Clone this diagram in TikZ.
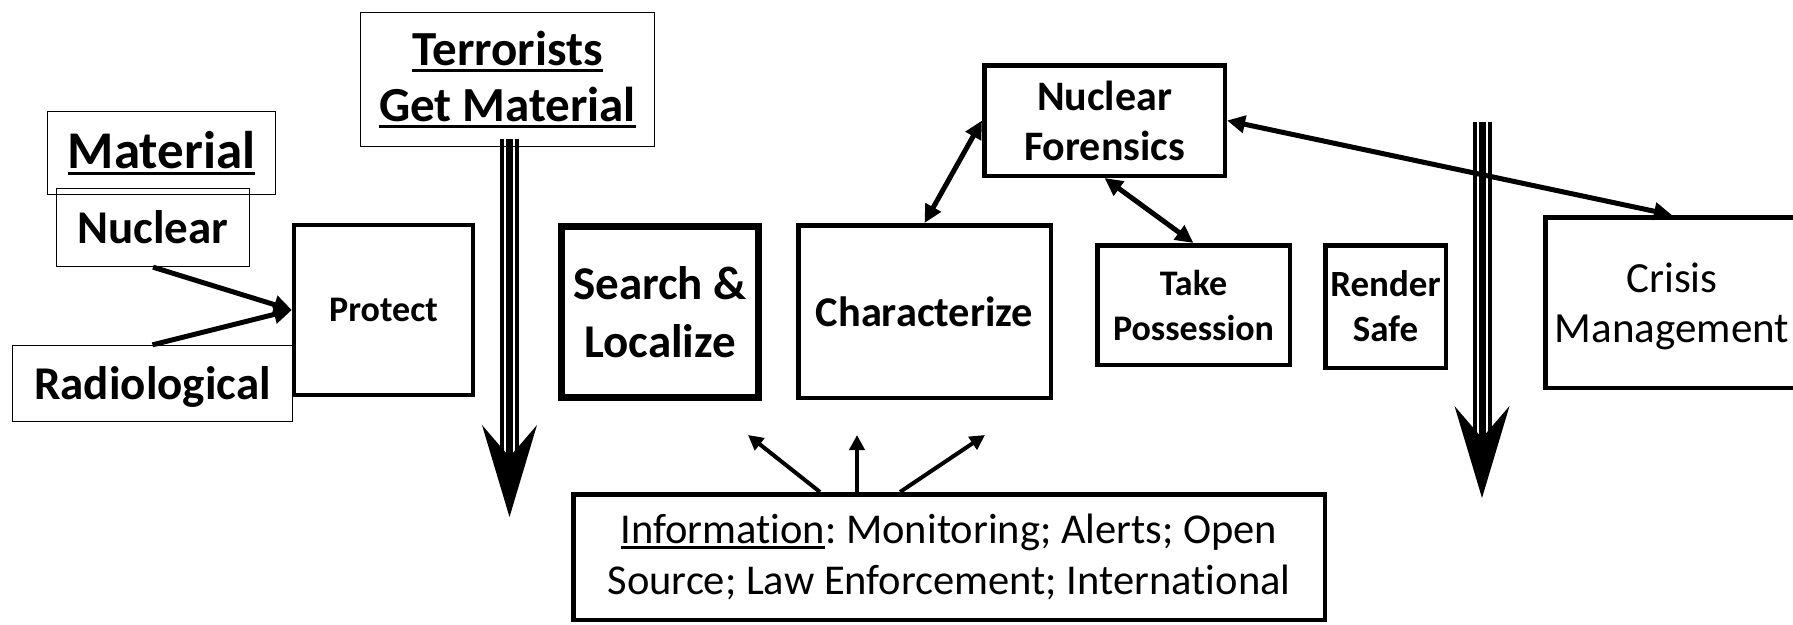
\documentclass[tikz,border=0pt]{standalone}
\usepackage{fontspec}
\setmainfont{Carlito}[RawFeature={-liga,-dlig}]
\usetikzlibrary{arrows.meta,calc}

% underline with a rule that scales with the font size
\newcommand{\uln}[1]{\setbox0\hbox{#1}\leavevmode\rlap{\rule[-0.12em]{\wd0}{0.055em}}\box0}
\newcommand{\fsz}[2]{\fontsize{#1}{#2}\selectfont}
\frenchspacing

\begin{document}
\begin{tikzpicture}[x=1pt,y=-1pt,
  thinbox/.style={draw, line width=1.3pt, inner sep=0pt, align=center},
  boldbox/.style={draw, line width=4.5pt, inner sep=0pt, align=center},
  arr/.style={line width=5pt, -{Triangle[length=18pt,width=18pt]}},
  dblarr/.style={line width=5pt, {Triangle[length=18pt,width=17pt]}-{Triangle[length=18pt,width=17pt]}},
  infoarr/.style={line width=4pt, -{Triangle[length=15pt,width=15pt]}}]

\useasboundingbox (0,0) rectangle (1793,624);

% material boxes on the left
\node[thinbox, minimum width=228pt, minimum height=83pt, font=\bfseries\fsz{53}{60}] (mat) at (161.5,153)
  {\uln{Material}};
\node[thinbox, minimum width=193pt, minimum height=78pt, font=\bfseries\fsz{47}{52}] (nucl) at (153,227.5)
  {Nuclear};
\node[thinbox, minimum width=280pt, minimum height=76pt, font=\bfseries\fsz{47}{52}, text depth=0pt] (rad) at (152.5,383.5)
  {Radiological};
\node[thinbox, minimum width=294pt, minimum height=134pt, font=\bfseries\fsz{49}{56}] (terr) at (507.5,79.5)
  {\uln{Terrorists}\\\uln{Get Material}};

% main chain of boxes
\node[boldbox, line width=4.3pt, minimum width=179pt, minimum height=170pt, font=\bfseries\fsz{36}{42}] (prot) at (383.5,310)
  {Protect};
\node[boldbox, line width=7pt, minimum width=197pt, minimum height=171pt, font=\bfseries\fsz{47}{58}] (srch) at (660,312)
  {Search \&\\Localize};
\node[boldbox, minimum width=252.5pt, minimum height=172.5pt, font=\bfseries\fsz{42.4}{50}] (chr) at (924.5,311.5)
  {Characterize};
\node[boldbox, minimum width=240.5pt, minimum height=110.5pt, font=\bfseries\fsz{42}{50}] (nf) at (1104.5,120.5)
  {Nuclear\\Forensics};
\node[boldbox, minimum width=192.5pt, minimum height=119.5pt, font=\bfseries\fsz{36}{45}] (tp) at (1193.5,305)
  {Take\\Possession};
\node[boldbox, minimum width=120.5pt, minimum height=122.5pt, font=\bfseries\fsz{37}{45}] (rs) at (1385.5,306.5)
  {Render\\Safe};
\node[boldbox, minimum width=253.5pt, minimum height=170.5pt, font=\fsz{43}{50}, text depth=0pt] (cm) at (1672,302.5)
  {Crisis\\Management};
\node[boldbox, minimum width=751.5pt, minimum height=125.5pt, font=\fsz{42.5}{51}] (info) at (949,557)
  {\uln{Information}: Monitoring; Alerts; Open\\Source; Law Enforcement; International};

% material feeds protection
\draw[arr] (nucl.south) -- (prot.west);
\draw[arr] (rad.north) -- (prot.west);

% forensics links
\draw[dblarr] (chr.north) -- (nf.west);
\draw[dblarr] (nf.south) -- (tp.north);
\draw[dblarr] (nf.east) -- (cm.north);

% information flows upward
\coordinate (iA) at (748,435);
\coordinate (iB) at (857,435);
\coordinate (iC) at (985,435);
\draw[infoarr] ($(info.north)+(-129,0)$) -- (iA);
\draw[infoarr] ($(info.north)+(-92,0)$) -- (iB);
\draw[infoarr] ($(info.north)+(-49,0)$) -- (iC);

% triple-line time arrows
\coordinate (ta) at ($(terr.south)+(2,-8)$);
\coordinate (tb) at (ta |- 0,517);
\coordinate (ra) at (1482,122);
\coordinate (rb) at (1482,498);
\foreach \s/\e in {ta/tb, ra/rb}{
  \coordinate (n) at ($(\e)+(0,-60)$);
  \draw[line width=7pt] (\s) -- (n);
  \draw[line width=4pt] ($(\s)+(-7.5,0)$) -- ($(n)+(-7.5,0)$);
  \draw[line width=4pt] ($(\s)+(7.5,0)$) -- ($(n)+(7.5,0)$);
  \fill (\e) -- ($(\e)+(-27.5,-92)$) -- (n) -- ($(\e)+(27.5,-92)$) -- cycle;
}
\end{tikzpicture}
\end{document}
